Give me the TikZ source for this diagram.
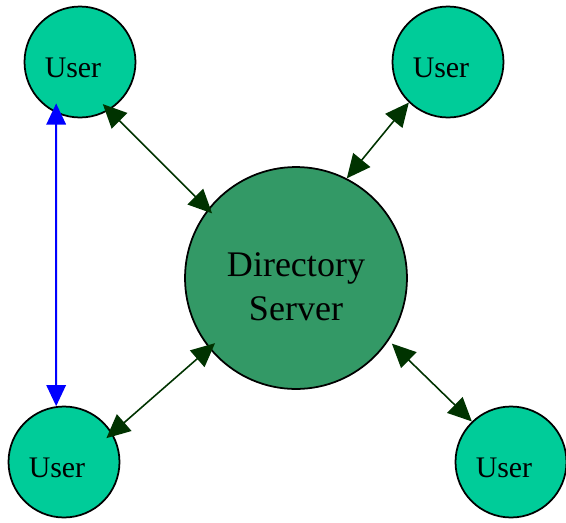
\documentclass[tikz,border=0pt]{standalone}
\usepackage{fontspec}
\setmainfont{Liberation Serif}
\usepackage{xcolor}
\usetikzlibrary{arrows.meta}
\definecolor{userfill}{RGB}{0,204,153}
\definecolor{serverfill}{RGB}{51,153,102}
\definecolor{linkgreen}{RGB}{0,51,0}

\begin{document}
\begin{tikzpicture}[x=0.02cm, y=-0.02cm,
  user/.style={circle, draw=black, line width=1pt, fill=userfill, minimum size=2.22cm, inner sep=0pt},
  server/.style={circle, draw=black, line width=1pt, fill=serverfill, minimum size=4.44cm, inner sep=0pt},
  usertxt/.style={font=\fontsize{17}{20}\selectfont, xshift=-4pt, yshift=-3.5pt},
  servertxt/.style={font=\fontsize{20.5}{25.5}\selectfont, align=center, yshift=-5pt},
  link/.style={draw=linkgreen, line width=0.9pt, {Triangle[length=13.5pt,width=12.5pt]}-{Triangle[length=13.5pt,width=12.5pt]}},
  peer/.style={draw=blue, line width=1.2pt, {Triangle[length=12pt,width=11pt]}-{Triangle[length=12pt,width=11pt]}}]

\useasboundingbox (0,0) rectangle (566,522);

\node[server, label={[servertxt]center:Directory\\Server}] (srv) at (296,278) {};

\node[user, label={[usertxt]center:User}] (tl) at (80,62) {};
\node[user, label={[usertxt]center:User}] (tr) at (448,62) {};
\node[user, label={[usertxt]center:User}] (bl) at (64,462) {};
\node[user, label={[usertxt]center:User}] (br) at (511,462) {};

\draw[link, shorten <=-5pt, shorten >=-3.4pt] (tl.301) -- (srv.142);
\draw[link] (tr.226) -- (srv.63);
\draw[link, shorten <=-4.5pt, shorten >=-4.5pt] (bl.31) -- (srv.219);
\draw[link, shorten >=2.5pt] (br.134) -- (srv.326);

\draw[peer, shorten <=-5.5pt] (tl.245) -- (bl.98);

\end{tikzpicture}
\end{document}
